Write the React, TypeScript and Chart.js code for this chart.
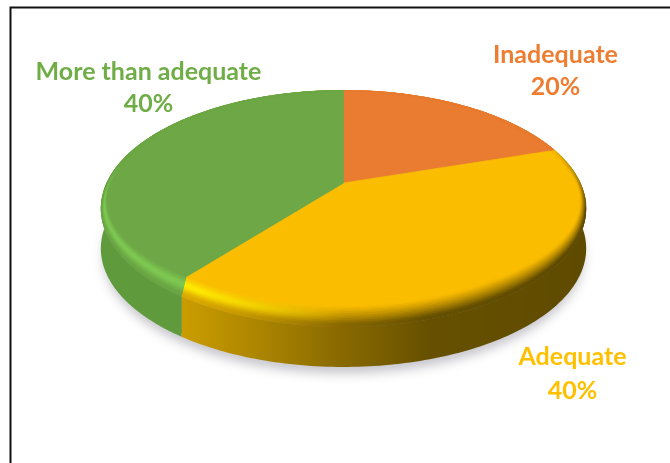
import React, { useEffect, useRef } from "react";
import { Chart, registerables } from "chart.js";

Chart.register(...registerables);

const categories = ["Inadequate", "Adequate", "More than adequate"];
const shares = [20, 39.5, 40.5];
const percentLabels = ["20%", "40%", "40%"];
const faceColors = ["#E97C30", "#FBBD00", "#6EA846"];
const textColors = ["#ED7D31", "#FFC000", "#70AD47"];
const highlightColors = ["#F59A5A", "#FFEE00", "#80CC55"];
const labelCenters = [
  [555.5, 63, 95],
  [572.5, 365, 399],
  [148.5, 80, 112],
];

const cx = 343.5, cy = 183, A = 237, B = 113, K = 0.215, DEPTH = 40;
const FONT = "700 25px Lato, 'Open Sans', sans-serif";

const project = (theta: number, r: number, dy = 0) => {
  const x = Math.sin(theta) * r, y = Math.cos(theta) * r, d = 1 + K * y;
  return [cx + (A * x) / d, cy - (B * y) / d + dy];
};
const rgb = (h: string) => [1, 3, 5].map((i) => parseInt(h.slice(i, i + 2), 16));
const mix = (a: number[], b: number[], t: number) => a.map((v, i) => v + (b[i] - v) * t);
const css = (c: number[]) => `rgb(${c.map((v) => Math.round(v)).join(",")})`;
const clamp = (v: number) => Math.max(0, Math.min(1, v));

const yellowWall: [number, string][] = [[184, "#C99C00"], [250, "#B08800"], [335, "#8B6B00"], [430, "#665000"], [600, "#5E4A00"]];
const flatWalls: Record<number, string> = { 0: "#A8561F", 2: "#5F9A3D" };
const wallColor = (i: number, x: number) => {
  if (flatWalls[i]) return rgb(flatWalls[i]);
  for (let s = 0; s < yellowWall.length - 1; s++) {
    const [x0, c0] = yellowWall[s], [x1, c1] = yellowWall[s + 1];
    if (x <= x1) return mix(rgb(c0), rgb(c1), clamp((x - x0) / (x1 - x0)));
  }
  return rgb(yellowWall[yellowWall.length - 1][1]);
};
const innerRing = (theta: number) => {
  const up = Math.cos(theta);
  return project(theta, 0.975, -17 * clamp(0.15 - up));
};

const projectedPie = {
  id: "projectedPie",
  beforeDatasetsDraw(chart: any) {
    const ctx: CanvasRenderingContext2D = chart.ctx;
    const arcs = chart.getDatasetMeta(0).data;
    const deg = Math.PI / 180, step = deg / 2, rings = 12;
    const angles = (arc: any) => [arc.startAngle + Math.PI / 2, arc.endAngle + Math.PI / 2];
    ctx.save();
    // cast shadow
    ctx.save();
    ctx.shadowColor = "rgba(60,60,80,0.3)";
    ctx.shadowBlur = 11;
    ctx.shadowOffsetY = 9;
    ctx.fillStyle = "#8a8a8a";
    ctx.beginPath();
    for (let a = 0; a < 360; a += 2) {
      const p = project(a * deg, 0.99, DEPTH - 1);
      a ? ctx.lineTo(p[0], p[1]) : ctx.moveTo(p[0], p[1]);
    }
    ctx.closePath();
    ctx.fill();
    ctx.restore();
    // walls
    arcs.forEach((arc: any, i: number) => {
      const [t0, t1] = angles(arc);
      const g = ctx.createLinearGradient(184, 0, 600, 0);
      for (let x = 184; x <= 600; x += 8) g.addColorStop((x - 184) / 416, css(wallColor(i, x)));
      ctx.beginPath();
      for (let t = t0; ; t += deg) {
        const p = project(Math.min(t, t1), 1);
        t === t0 ? ctx.moveTo(p[0], p[1]) : ctx.lineTo(p[0], p[1]);
        if (t >= t1) break;
      }
      for (let t = t1; ; t -= deg) {
        const p = project(Math.max(t, t0), 1, DEPTH);
        ctx.lineTo(p[0], p[1]);
        if (t <= t0) break;
      }
      ctx.closePath();
      ctx.fillStyle = g;
      ctx.fill();
    });
    // bevel, outer ring first; each cell overlaps the next so no seams show
    arcs.forEach((arc: any, i: number) => {
      const [t0, t1] = angles(arc);
      const base = rgb(arc.options.backgroundColor);
      const ringPoint = (t: number, f: number) => {
        const a = innerRing(t), b = project(t, 1);
        return [a[0] + (b[0] - a[0]) * f, a[1] + (b[1] - a[1]) * f];
      };
      for (let j = rings - 1; j >= 0; j--) {
        const u = (j + 0.5) / rings;
        for (let t = t0; t < t1; t += step) {
          const e = Math.min(t + 2 * step, t1), m = t + step / 2;
          const up = Math.cos(m), side = Math.sin(m);
          const vis = clamp((0.35 - up) / 0.6);
          const hi = clamp(-side / 0.5) * clamp((0.25 - up) / 0.5);
          const x = ringPoint(m, u)[0];
          let col = mix(base, wallColor(i, x), Math.pow(clamp(u * 1.2), 1.2) * vis * (1 - (i === 2 ? 0.75 : 0.35) * hi));
          const bump = Math.exp(-Math.pow((u - 0.4) / 0.28, 2));
          col = mix(col, rgb(highlightColors[i]), bump * hi * 0.9);
          const f0 = Math.max(0, j - 1) / rings, f1 = (j + 1) / rings;
          const q = [ringPoint(t, f0), ringPoint(e, f0), ringPoint(e, f1), ringPoint(t, f1)];
          ctx.beginPath();
          q.forEach((p, n) => (n ? ctx.lineTo(p[0], p[1]) : ctx.moveTo(p[0], p[1])));
          ctx.closePath();
          ctx.fillStyle = css(col);
          ctx.fill();
        }
      }
    });
    // faces
    arcs.forEach((arc: any) => {
      const [t0, t1] = angles(arc);
      const o = project(0, 0);
      ctx.beginPath();
      ctx.moveTo(o[0], o[1]);
      for (let t = t0; t < t1; t += deg) {
        const p = innerRing(t);
        ctx.lineTo(p[0], p[1]);
      }
      const p = innerRing(t1);
      ctx.lineTo(p[0], p[1]);
      ctx.closePath();
      ctx.fillStyle = arc.options.backgroundColor;
      ctx.strokeStyle = arc.options.backgroundColor;
      ctx.lineWidth = 0.7;
      ctx.fill();
      ctx.stroke();
    });
    // labels
    ctx.font = FONT;
    ctx.textAlign = "center";
    ctx.textBaseline = "alphabetic";
    categories.forEach((name, i) => {
      const [x, y1, y2] = labelCenters[i];
      ctx.fillStyle = textColors[i];
      ctx.fillText(name, x, y1);
      ctx.fillText(percentLabels[i], x, y2);
    });
    // frame
    ctx.strokeStyle = "#111";
    ctx.lineWidth = 2;
    ctx.beginPath();
    ctx.moveTo(10.5, 470);
    ctx.lineTo(10.5, 7.5);
    ctx.lineTo(680, 7.5);
    ctx.stroke();
    ctx.restore();
    return false;
  },
};

export default function App() {
  const ref = useRef<HTMLCanvasElement>(null);
  useEffect(() => {
    document.body.style.margin = "0";
    const chart = new Chart(ref.current!, {
      type: "pie",
      data: {
        labels: categories,
        datasets: [{ data: shares, backgroundColor: faceColors, borderWidth: 0 }],
      },
      options: {
        responsive: false,
        animation: false,
        plugins: { legend: { display: false }, tooltip: { enabled: false } },
      },
      plugins: [projectedPie],
    } as any);
    return () => chart.destroy();
  }, []);
  return <canvas ref={ref} width={670} height={463} style={{ display: "block", background: "#fff" }} />;
}
